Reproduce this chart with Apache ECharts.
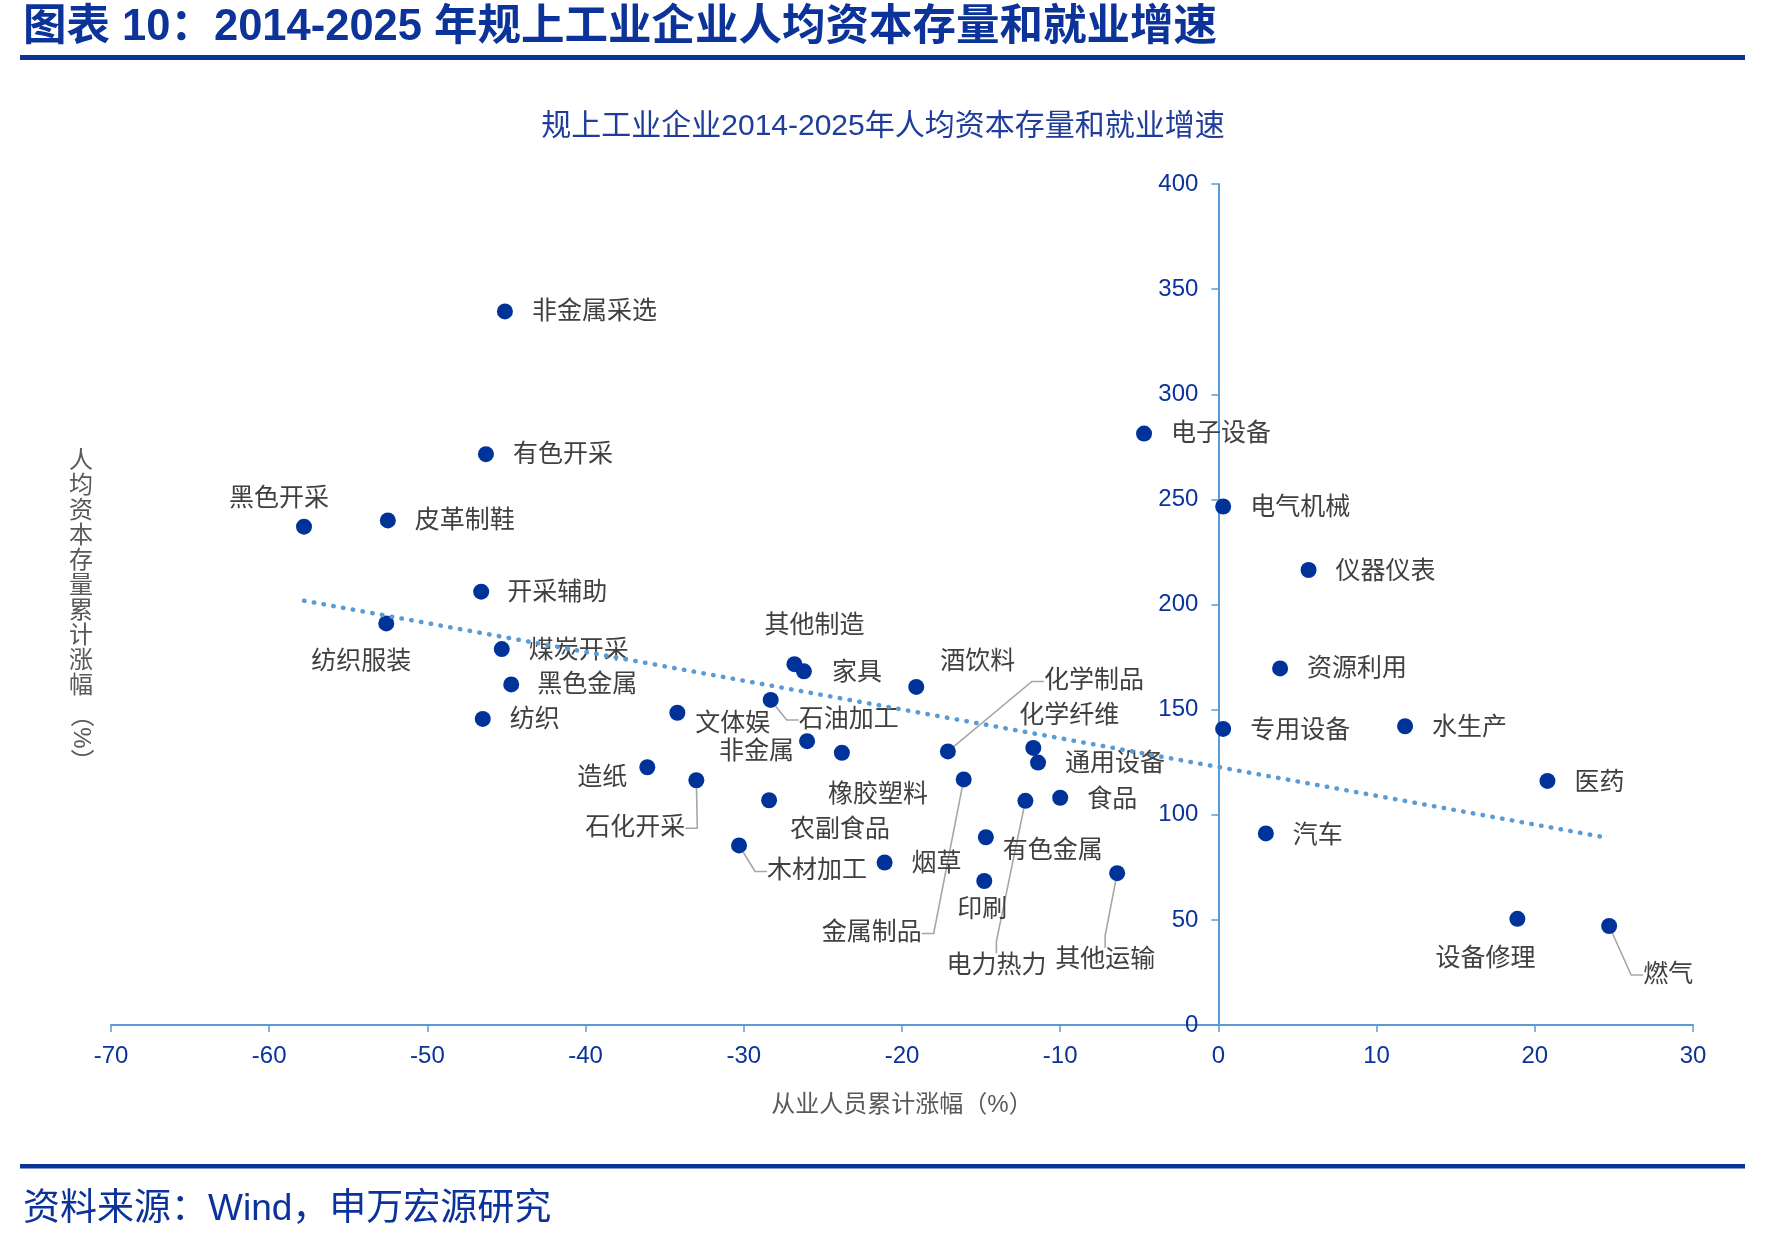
<!DOCTYPE html>
<html>
<head>
<meta charset="utf-8">
<title>规上工业企业人均资本存量和就业增速</title>
<script src="https://cdn.jsdelivr.net/npm/echarts@6/dist/echarts.min.js"></script>
<style>
html,body{margin:0;padding:0;background:#fff;}
#main{width:1779px;height:1242px;}
</style>
</head>
<body>
<div id="main"></div>
<script>
// 行业名称
var names = ['非金属采选','有色开采','黑色开采','皮革制鞋','开采辅助','纺织服装','煤炭开采','黑色金属','纺织','文体娱',
  '造纸','石化开采','木材加工','其他制造','家具','石油加工','非金属','橡胶塑料','农副食品','烟草',
  '酒饮料','化学制品','金属制品','有色金属','印刷','化学纤维','通用设备','电力热力','食品','其他运输',
  '电子设备','电气机械','仪器仪表','资源利用','专用设备','水生产','医药','汽车','设备修理','燃气'];
// 从业人员累计涨幅(%)
var empGrowth = [-45.1,-46.3,-57.8,-52.5,-46.6,-52.6,-45.3,-44.7,-46.5,-34.2,
  -36.1,-33.0,-30.3,-26.8,-26.2,-28.3,-26.0,-23.8,-28.4,-21.1,
  -19.1,-17.1,-16.1,-14.7,-14.8,-11.7,-11.4,-12.2,-10.0,-6.4,
  -4.7,0.3,5.7,3.9,0.3,11.8,20.8,3.0,18.9,24.7];
// 人均资本存量累计涨幅(%)
var capGrowth = [339.4,271.5,237.0,240.0,206.1,191.0,178.8,162.0,145.6,148.5,
  122.6,116.4,85.4,171.6,168.2,154.6,135.0,129.5,106.9,77.3,
  160.8,130.1,116.8,89.3,68.5,131.8,124.8,106.6,108.1,72.2,
  281.3,246.6,216.4,169.6,140.8,142.1,116.1,91.1,50.5,47.1];
// 线性趋势线两端
var trendX = [-57.8, 24.7];
var trendY = [201.8, 88.9];
// 坐标轴刻度 [min, max, step]
var xTicks = [-70, 30, 10];
var yTicks = [0, 400, 50];

// 标签相对点的位置 [dx, dy, 对齐]
var placement = {
  '非金属采选':[27,1,'left'],'有色开采':[27,1,'left'],'黑色开采':[-25,-28,'center'],'皮革制鞋':[27,1,'left'],
  '开采辅助':[26,1,'left'],'纺织服装':[-25,39,'center'],'煤炭开采':[27,2,'left'],'黑色金属':[26,1,'left'],
  '纺织':[27,1,'left'],'文体娱':[18,11,'left'],'造纸':[-20,11,'right'],'石化开采':[-61,48,'center'],
  '木材加工':[28,26,'left'],'其他制造':[20,-38,'center'],'家具':[28,2,'left'],'石油加工':[28,20,'left'],
  '非金属':[-13,11,'right'],'橡胶塑料':[36,42,'center'],'农副食品':[21,30,'left'],'烟草':[27,2,'left'],
  '酒饮料':[24,-25,'left'],'化学制品':[96,-70,'left'],'金属制品':[-92,154,'center'],'有色金属':[17,14,'left'],
  '印刷':[-2,29,'center'],'化学纤维':[36,-32,'center'],'通用设备':[27,2,'left'],'电力热力':[-29,165,'center'],
  '食品':[27,2,'left'],'其他运输':[-12,87,'center'],'电子设备':[27,1,'left'],'电气机械':[27,2,'left'],
  '仪器仪表':[27,2,'left'],'资源利用':[27,1,'left'],'专用设备':[27,2,'left'],'水生产':[27,2,'left'],
  '医药':[27,2,'left'],'汽车':[27,3,'left'],'设备修理':[-32,40,'center'],'燃气':[34,49,'left']
};
var leaderNames = ['石化开采','木材加工','石油加工','化学制品','金属制品','电力热力','其他运输','燃气'];

var blue = '#0C3399';
var axisBlue = '#5B9BD5';
var cjk = "'Liberation Sans','Noto Sans CJK SC',sans-serif";

var gridLeft = 111, gridRight = 86;
var plotW = 1779 - gridLeft - gridRight;
// y 轴放在 x=0 处
var yAxisOffset = -plotW * (0 - xTicks[0]) / (xTicks[1] - xTicks[0]);

var points = names.map(function (n, i) {
  var item = { name: n, value: [empGrowth[i], capGrowth[i]] };
  if (leaderNames.indexOf(n) >= 0) item.labelLine = { show: true };
  return item;
});

var chart = echarts.init(document.getElementById('main'));

var option = {
  animation: false,
  backgroundColor: '#fff',
  textStyle: { fontFamily: cjk },
  grid: { left: gridLeft, right: gridRight, top: 184, bottom: 217, containLabel: false },
  xAxis: {
    type: 'value',
    min: xTicks[0], max: xTicks[1], interval: xTicks[2],
    name: '从业人员累计涨幅（%）',
    nameLocation: 'middle',
    nameGap: 68,
    nameTextStyle: { color: '#595959', fontSize: 24, fontFamily: cjk },
    axisLine: { onZero: false, lineStyle: { color: axisBlue, width: 2 } },
    axisTick: { show: true, length: 7, lineStyle: { color: axisBlue, width: 1.5 } },
    axisLabel: { color: blue, fontSize: 24, margin: 19, fontFamily: cjk },
    splitLine: { show: false }
  },
  yAxis: {
    type: 'value',
    position: 'left',
    offset: yAxisOffset,
    min: yTicks[0], max: yTicks[1], interval: yTicks[2],
    axisLine: { onZero: false, lineStyle: { color: axisBlue, width: 2 } },
    axisTick: { show: true, length: 7, lineStyle: { color: axisBlue, width: 1.5 } },
    axisLabel: { color: blue, fontSize: 24, margin: 20, fontFamily: cjk },
    splitLine: { show: false }
  },
  graphic: [
    { type: 'text', left: 23, top: 6,
      style: { text: '图表 10：2014-2025 年规上工业企业人均资本存量和就业增速', fill: blue,
        fontSize: 43.5, fontWeight: 'bold', fontFamily: cjk } },
    { type: 'rect', shape: { x: 20, y: 55, width: 1725, height: 5 }, style: { fill: blue } },
    { type: 'text', x: 883, y: 127,
      style: { text: '规上工业企业2014-2025年人均资本存量和就业增速', fill: '#1F3D99',
        fontSize: 30, fontFamily: cjk, textAlign: 'center', textVerticalAlign: 'middle' } },
    { type: 'text', x: 81, y: 574,
      style: { text: '人均资本存量累计涨幅'.split('').join('\n'), fill: '#595959', fontSize: 24,
        lineHeight: 25, fontFamily: cjk, textAlign: 'center', textVerticalAlign: 'middle' } },
    { type: 'text', x: 81, y: 738, rotation: -Math.PI / 2,
      style: { text: '（%）', fill: '#595959', fontSize: 24, fontFamily: cjk,
        textAlign: 'center', textVerticalAlign: 'middle' } },
    { type: 'rect', shape: { x: 20, y: 1164, width: 1725, height: 4.5 }, style: { fill: blue } },
    { type: 'text', x: 23, y: 1210,
      style: { text: '资料来源：Wind，申万宏源研究', fill: blue, fontSize: 37, fontFamily: cjk,
        textVerticalAlign: 'middle' } }
  ],
  series: [
    {
      type: 'scatter',
      data: points,
      symbolSize: 16,
      itemStyle: { color: '#003399', opacity: 1 },
      z: 2,
      label: {
        show: true,
        formatter: '{b}',
        color: '#404040',
        fontSize: 25,
        fontFamily: cjk
      },
      labelLine: {
        show: false,
        length2: 12,
        lineStyle: { color: '#A6A6A6', width: 1.6 }
      },
      labelLayout: function (p) {
        var pl = placement[names[p.dataIndex]];
        var cx = p.rect.x + p.rect.width / 2;
        var cy = p.rect.y + p.rect.height / 2;
        return { x: cx + pl[0], y: cy + pl[1], align: pl[2], verticalAlign: 'middle' };
      },
      emphasis: { disabled: true }
    },
    {
      type: 'line',
      data: trendX.map(function (x, i) { return [x, trendY[i]]; }),
      showSymbol: false,
      symbol: 'none',
      z: 3,
      lineStyle: { color: axisBlue, width: 4.5, type: [0.5, 9.4], cap: 'round' },
      silent: true
    }
  ]
};

chart.setOption(option);
</script>
</body>
</html>
